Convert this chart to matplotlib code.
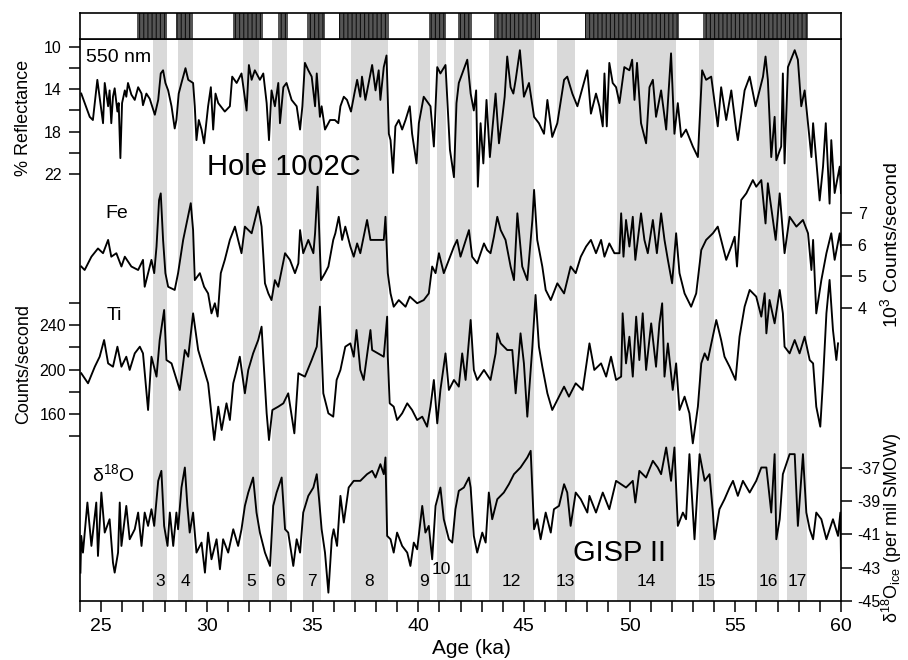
import matplotlib.pyplot as plt
from matplotlib.ticker import MultipleLocator
from matplotlib.transforms import blended_transform_factory

plt.rcParams['font.family'] = ['Liberation Sans', 'DejaVu Sans']
plt.rcParams['mathtext.fontset'] = 'custom'
plt.rcParams['mathtext.rm'] = 'Liberation Sans'
plt.rcParams['mathtext.it'] = 'Liberation Sans:italic'
plt.rcParams['axes.unicode_minus'] = False
plt.rcParams['hatch.linewidth'] = 0.8

# ---- data: (age ka, value) ----
reflectance_550 = [
    (24.06, 14.4), (24.46, 16.6), (24.61, 16.9), (24.82, 13.1), (25.09, 17.2), (25.17, 13.4), (25.33, 15.6),
    (25.40, 14.1), (25.48, 17.2), (25.56, 14.7), (25.64, 13.9), (25.77, 16.1), (25.83, 15.3), (25.91, 20.5),
    (25.99, 15.3), (26.12, 14.1), (26.19, 14.7), (26.27, 13.4), (26.43, 14.5), (26.59, 15.0), (26.75, 13.8),
    (26.91, 14.4), (26.98, 15.5), (27.14, 14.4), (27.30, 14.9), (27.54, 16.4), (27.70, 15.0), (27.82, 12.5),
    (27.93, 12.2), (28.04, 13.4), (28.17, 14.1), (28.33, 15.6), (28.48, 17.7), (28.56, 16.9), (28.67, 14.4),
    (28.80, 13.4), (28.99, 12.0), (29.12, 13.1), (29.35, 13.4), (29.43, 15.6), (29.51, 18.8), (29.62, 16.9),
    (29.75, 17.8), (29.87, 19.1), (30.06, 15.6), (30.19, 13.8), (30.30, 17.8), (30.41, 14.4), (30.54, 15.3),
    (30.85, 16.1), (31.09, 15.6), (31.20, 12.8), (31.41, 13.4), (31.64, 12.5), (31.88, 16.0), (31.99, 11.7),
    (32.12, 13.1), (32.27, 12.2), (32.51, 13.1), (32.67, 12.5), (32.83, 15.3), (32.94, 18.8), (33.06, 14.1),
    (33.22, 15.6), (33.38, 13.4), (33.46, 17.2), (33.62, 13.8), (33.77, 13.4), (34.01, 15.0), (34.25, 15.6),
    (34.41, 17.8), (34.52, 15.6), (34.64, 11.5), (34.80, 12.2), (34.96, 12.8), (35.12, 15.6), (35.20, 12.5),
    (35.35, 16.6), (35.43, 15.6), (35.59, 17.8), (35.83, 16.9), (36.06, 16.9), (36.22, 17.2), (36.32, 15.6),
    (36.48, 14.7), (36.63, 15.0), (36.82, 16.1), (36.98, 14.4), (37.11, 13.1), (37.26, 14.7), (37.34, 12.8),
    (37.50, 15.0), (37.82, 11.7), (37.98, 14.1), (38.13, 12.2), (38.21, 15.0), (38.37, 11.9), (38.50, 10.8),
    (38.61, 18.2), (38.69, 18.8), (38.81, 21.9), (38.92, 17.5), (39.08, 16.9), (39.24, 17.8), (39.40, 16.9),
    (39.60, 15.6), (39.71, 18.2), (39.92, 21.0), (40.03, 17.2), (40.26, 14.7), (40.58, 15.6), (40.74, 19.4),
    (40.90, 11.9), (41.05, 12.5), (41.29, 11.7), (41.50, 19.7), (41.69, 22.3), (41.81, 15.3), (41.92, 13.4),
    (42.32, 11.2), (42.48, 14.4), (42.63, 16.0), (42.74, 14.1), (42.82, 23.2), (42.95, 17.2), (43.08, 21.0),
    (43.23, 15.0), (43.39, 20.4), (43.66, 14.4), (43.82, 19.1), (43.98, 16.6), (44.09, 14.7), (44.21, 10.9),
    (44.37, 13.8), (44.50, 14.4), (44.61, 13.1), (44.81, 10.3), (45.00, 14.7), (45.24, 13.4), (45.48, 16.6),
    (45.71, 17.2), (45.95, 18.2), (46.11, 15.0), (46.34, 18.5), (46.58, 17.2), (46.90, 13.1), (47.05, 12.8),
    (47.29, 14.4), (47.53, 15.6), (48.00, 12.2), (48.17, 16.3), (48.41, 14.4), (48.57, 15.6), (48.73, 17.5),
    (48.81, 12.5), (48.92, 17.5), (49.04, 11.5), (49.20, 13.4), (49.36, 13.8), (49.52, 15.3), (49.75, 11.9),
    (49.99, 12.2), (50.12, 11.2), (50.23, 15.0), (50.35, 11.5), (50.54, 17.2), (50.78, 19.1), (50.94, 13.8),
    (51.10, 13.1), (51.25, 16.6), (51.49, 14.1), (51.73, 17.8), (51.96, 10.6), (52.12, 18.2), (52.28, 15.3),
    (52.44, 18.5), (52.67, 17.8), (52.99, 19.4), (53.23, 20.4), (53.43, 12.2), (53.62, 13.1), (53.86, 12.8),
    (54.17, 17.5), (54.33, 13.8), (54.57, 16.9), (54.81, 14.1), (55.04, 17.8), (55.12, 18.8), (55.44, 14.1),
    (55.68, 12.8), (55.96, 15.6), (56.31, 12.8), (56.43, 10.9), (56.54, 13.1), (56.70, 20.4), (56.86, 16.6),
    (56.94, 20.7), (57.17, 19.4), (57.25, 12.5), (57.33, 21.0), (57.49, 11.9), (57.81, 10.3), (57.96, 11.2),
    (58.12, 15.6), (58.28, 14.1), (58.44, 17.2), (58.60, 20.4), (58.68, 17.2), (58.99, 24.5), (59.15, 21.3),
    (59.28, 17.2), (59.46, 24.8), (59.54, 18.8), (59.70, 23.8), (59.94, 21.3), (60.00, 23.8),
]

iron = [
    (24.06, 5.31), (24.22, 5.20), (24.54, 5.62), (24.85, 5.88), (25.09, 5.73), (25.33, 6.15), (25.48, 5.62),
    (25.72, 5.73), (25.96, 5.31), (26.12, 5.62), (26.43, 5.31), (26.75, 5.20), (26.98, 5.52), (27.06, 4.67),
    (27.22, 5.10), (27.38, 5.52), (27.51, 5.10), (27.62, 5.94), (27.74, 7.41), (27.82, 7.62), (27.93, 6.15),
    (28.04, 5.10), (28.17, 4.67), (28.48, 4.57), (28.64, 5.10), (28.88, 6.15), (29.04, 6.67), (29.24, 7.31),
    (29.35, 6.46), (29.43, 4.88), (29.67, 5.10), (29.87, 4.67), (30.06, 4.46), (30.22, 3.83), (30.38, 4.15),
    (30.51, 3.73), (30.66, 5.10), (30.85, 5.52), (31.09, 6.15), (31.33, 6.57), (31.48, 6.15), (31.64, 5.73),
    (31.80, 6.57), (32.12, 6.36), (32.43, 7.20), (32.59, 6.57), (32.75, 4.78), (32.91, 4.46), (33.06, 4.25),
    (33.22, 4.88), (33.38, 4.67), (33.70, 5.73), (33.93, 5.52), (34.17, 5.10), (34.33, 5.41), (34.41, 6.46),
    (34.56, 5.73), (34.80, 6.15), (35.04, 5.73), (35.12, 6.36), (35.24, 7.83), (35.40, 4.88), (35.59, 5.10),
    (35.75, 5.31), (35.98, 6.15), (36.08, 6.36), (36.24, 6.88), (36.40, 6.15), (36.55, 6.57), (36.79, 5.94),
    (36.95, 5.62), (37.11, 6.04), (37.26, 5.73), (37.42, 6.25), (37.58, 6.78), (37.74, 6.15), (38.37, 6.15),
    (38.45, 6.88), (38.56, 5.10), (38.69, 4.46), (38.84, 4.04), (39.08, 4.25), (39.40, 4.04), (39.60, 4.36),
    (39.95, 4.15), (40.26, 4.25), (40.50, 4.46), (40.66, 5.31), (40.82, 5.10), (40.98, 5.73), (41.21, 5.10),
    (41.45, 5.52), (41.69, 5.94), (41.84, 6.15), (42.00, 5.62), (42.40, 6.46), (42.55, 5.62), (42.79, 5.41),
    (43.11, 6.04), (43.26, 5.83), (43.42, 5.73), (43.58, 6.25), (43.74, 6.88), (43.90, 6.46), (44.13, 6.15),
    (44.37, 5.31), (44.53, 4.88), (44.69, 6.99), (44.92, 5.31), (45.16, 4.88), (45.40, 6.78), (45.48, 7.73),
    (45.63, 6.15), (45.87, 5.31), (46.03, 4.57), (46.27, 4.25), (46.58, 4.78), (46.90, 4.46), (47.21, 5.31),
    (47.45, 5.10), (47.69, 5.62), (47.94, 5.94), (48.17, 6.15), (48.41, 5.73), (48.65, 6.15), (48.81, 5.62),
    (49.04, 6.04), (49.28, 5.73), (49.52, 5.73), (49.60, 6.99), (49.71, 5.62), (49.83, 6.78), (49.99, 5.94),
    (50.15, 6.88), (50.27, 5.52), (50.54, 6.99), (50.70, 6.15), (50.86, 5.73), (51.10, 6.78), (51.29, 5.73),
    (51.49, 6.99), (51.65, 6.15), (51.81, 5.52), (52.01, 4.78), (52.20, 6.36), (52.36, 5.10), (52.60, 4.46),
    (52.91, 4.04), (53.15, 4.46), (53.39, 5.83), (53.62, 6.15), (53.94, 6.36), (54.17, 6.57), (54.33, 6.15),
    (54.57, 5.52), (54.81, 5.94), (54.97, 6.25), (55.08, 5.31), (55.28, 7.41), (55.52, 7.62), (55.83, 8.04),
    (55.99, 7.83), (56.23, 8.04), (56.43, 6.67), (56.54, 7.94), (56.91, 6.15), (57.10, 7.62), (57.33, 5.73),
    (57.57, 6.88), (57.89, 6.57), (58.20, 6.78), (58.44, 6.36), (58.60, 5.20), (58.68, 6.15), (58.83, 3.83),
    (59.07, 4.88), (59.31, 5.73), (59.54, 6.36), (59.70, 5.52), (59.94, 6.36), (60.00, 5.94),
]

titanium = [
    (24.06, 196.6), (24.38, 187.6), (24.70, 202.5), (24.93, 211.5), (25.14, 226.5), (25.33, 205.5),
    (25.56, 202.5), (25.77, 220.5), (25.96, 202.5), (26.19, 211.5), (26.35, 199.6), (26.59, 214.5),
    (26.83, 220.5), (26.98, 214.5), (27.22, 163.6), (27.38, 211.5), (27.62, 193.6), (27.77, 226.5),
    (27.98, 253.5), (28.09, 208.5), (28.33, 205.5), (28.72, 181.6), (28.96, 217.5), (29.12, 211.5),
    (29.35, 250.5), (29.59, 217.5), (29.78, 205.5), (30.06, 187.6), (30.35, 136.6), (30.54, 166.6),
    (30.70, 145.6), (30.93, 169.6), (31.09, 154.6), (31.25, 187.6), (31.45, 202.5), (31.56, 211.5),
    (31.80, 178.6), (31.96, 199.6), (32.19, 214.5), (32.43, 226.5), (32.59, 238.5), (32.67, 211.5),
    (32.83, 160.6), (32.94, 136.6), (33.10, 163.6), (33.38, 166.6), (33.62, 169.6), (33.85, 178.6),
    (34.14, 142.6), (34.33, 196.6), (34.64, 193.6), (34.96, 208.5), (35.20, 220.5), (35.35, 256.5),
    (35.51, 178.6), (35.75, 160.6), (35.98, 157.6), (36.14, 190.6), (36.32, 199.6), (36.55, 220.5),
    (36.79, 223.5), (36.95, 211.5), (37.08, 235.5), (37.26, 199.6), (37.42, 190.6), (37.74, 235.5),
    (37.82, 217.5), (38.37, 211.5), (38.53, 247.5), (38.56, 211.5), (38.65, 169.6), (38.84, 166.6),
    (39.00, 154.6), (39.24, 160.6), (39.48, 169.6), (39.71, 163.6), (39.95, 154.6), (40.19, 157.6),
    (40.42, 148.6), (40.58, 166.6), (40.74, 190.6), (40.90, 151.6), (41.05, 181.6), (41.29, 214.5),
    (41.45, 181.6), (41.69, 190.6), (41.92, 184.6), (42.08, 214.5), (42.24, 190.6), (42.48, 244.5),
    (42.63, 199.6), (42.79, 190.6), (43.11, 199.6), (43.42, 190.6), (43.66, 214.5), (43.74, 232.5),
    (43.90, 223.5), (44.21, 217.5), (44.45, 217.5), (44.61, 178.6), (44.84, 232.5), (45.00, 205.5),
    (45.16, 157.6), (45.40, 220.5), (45.55, 267.0), (45.71, 220.5), (45.87, 202.5), (46.11, 178.6),
    (46.34, 163.6), (46.90, 184.6), (47.13, 175.6), (47.45, 187.6), (47.78, 181.6), (48.10, 223.5),
    (48.33, 199.6), (48.65, 205.5), (48.89, 193.6), (49.12, 211.5), (49.36, 190.6), (49.60, 193.6),
    (49.67, 250.5), (49.83, 205.5), (49.99, 229.5), (50.15, 193.6), (50.31, 247.5), (50.46, 208.5),
    (50.62, 250.5), (50.78, 199.6), (51.02, 241.5), (51.25, 202.5), (51.41, 241.5), (51.54, 259.5),
    (51.65, 193.6), (51.81, 223.5), (52.04, 181.6), (52.20, 205.5), (52.36, 163.6), (52.60, 175.6),
    (52.83, 160.6), (52.99, 133.6), (53.23, 166.6), (53.39, 205.5), (53.55, 214.5), (53.70, 208.5),
    (54.10, 244.5), (54.33, 226.5), (54.49, 211.5), (54.73, 202.5), (55.01, 190.6), (55.20, 229.5),
    (55.44, 256.5), (55.68, 271.5), (55.99, 265.5), (56.23, 247.5), (56.39, 268.5), (56.47, 232.5),
    (56.62, 262.5), (56.86, 241.5), (57.10, 271.5), (57.25, 250.5), (57.33, 220.5), (57.57, 214.5),
    (57.81, 226.5), (58.04, 214.5), (58.28, 229.5), (58.52, 208.5), (58.68, 205.5), (58.83, 166.6),
    (59.02, 148.6), (59.15, 190.6), (59.31, 250.5), (59.46, 280.5), (59.62, 235.5), (59.78, 208.5),
    (59.86, 223.5),
]

d18o_gisp2 = [
    (24.02, -43.3), (24.06, -41.1), (24.14, -42.1), (24.35, -39.1), (24.54, -41.7), (24.77, -39.1),
    (24.85, -42.3), (25.01, -38.5), (25.17, -40.9), (25.40, -40.1), (25.56, -42.7), (25.64, -43.3),
    (25.80, -42.1), (25.88, -39.1), (25.96, -41.7), (26.19, -39.3), (26.35, -41.3), (26.59, -40.7),
    (26.75, -39.7), (26.91, -41.7), (27.06, -39.7), (27.22, -40.5), (27.38, -39.5), (27.51, -40.5),
    (27.70, -37.8), (27.85, -37.2), (27.98, -40.5), (28.14, -41.7), (28.25, -39.7), (28.41, -41.7),
    (28.56, -39.7), (28.64, -40.7), (28.80, -38.2), (28.96, -37.0), (29.08, -39.3), (29.19, -40.9),
    (29.35, -39.7), (29.51, -42.1), (29.75, -41.5), (29.91, -43.3), (30.06, -40.9), (30.22, -42.5),
    (30.46, -41.3), (30.62, -43.1), (30.77, -41.3), (31.01, -42.1), (31.25, -40.7), (31.48, -41.7),
    (31.64, -40.7), (31.80, -39.3), (31.96, -38.5), (32.19, -37.6), (32.35, -39.7), (32.51, -40.9),
    (32.75, -42.1), (32.99, -42.9), (33.14, -39.3), (33.30, -38.5), (33.54, -37.6), (33.70, -40.7),
    (33.85, -40.9), (34.09, -42.9), (34.25, -41.3), (34.41, -42.1), (34.56, -39.7), (34.80, -38.7),
    (35.04, -38.2), (35.20, -37.4), (35.31, -38.9), (35.43, -40.7), (35.59, -42.1), (35.75, -44.5),
    (35.91, -41.3), (36.00, -40.7), (36.16, -41.7), (36.32, -38.7), (36.48, -40.3), (36.71, -38.2),
    (36.95, -37.8), (37.26, -37.8), (37.58, -37.4), (37.82, -37.2), (37.98, -37.6), (38.21, -36.8),
    (38.37, -37.4), (38.45, -36.4), (38.53, -41.1), (38.69, -41.3), (38.84, -42.1), (39.00, -40.9),
    (39.24, -41.7), (39.48, -42.1), (39.63, -42.9), (39.79, -41.5), (39.95, -41.9), (40.19, -39.3),
    (40.34, -40.9), (40.50, -40.5), (40.66, -42.5), (40.82, -39.3), (41.05, -38.2), (41.21, -40.1),
    (41.45, -41.3), (41.61, -41.5), (41.76, -39.5), (41.92, -38.4), (42.16, -38.2), (42.40, -37.6),
    (42.48, -38.2), (42.63, -41.1), (42.79, -42.1), (43.03, -40.9), (43.19, -41.5), (43.34, -38.5),
    (43.50, -40.1), (43.74, -38.9), (44.05, -38.5), (44.29, -38.0), (44.53, -37.4), (44.84, -37.0),
    (45.16, -36.4), (45.32, -36.0), (45.48, -40.7), (45.63, -40.1), (45.79, -41.3), (46.03, -39.7),
    (46.27, -40.9), (46.42, -39.5), (46.66, -39.3), (46.90, -38.0), (47.05, -38.5), (47.21, -40.5),
    (47.45, -38.5), (47.69, -38.9), (48.00, -39.7), (48.10, -38.7), (48.41, -39.7), (48.73, -38.5),
    (49.04, -39.5), (49.36, -37.8), (49.83, -38.2), (50.15, -37.8), (50.27, -39.1), (50.46, -37.2),
    (50.78, -37.6), (51.10, -36.6), (51.33, -37.0), (51.49, -37.4), (51.73, -35.8), (51.96, -37.8),
    (52.12, -35.8), (52.28, -40.5), (52.52, -39.7), (52.67, -40.1), (52.83, -36.2), (53.07, -41.3),
    (53.31, -36.2), (53.55, -37.8), (53.78, -37.4), (53.94, -39.7), (54.02, -41.3), (54.25, -39.5),
    (54.49, -38.9), (54.73, -38.2), (54.89, -37.8), (55.12, -38.7), (55.36, -37.8), (55.68, -38.5),
    (55.99, -37.8), (56.23, -37.0), (56.47, -37.0), (56.70, -39.7), (56.86, -36.2), (56.94, -41.3),
    (57.10, -40.1), (57.25, -37.4), (57.57, -36.2), (57.81, -36.2), (57.96, -40.5), (58.20, -36.2),
    (58.36, -39.7), (58.52, -40.7), (58.68, -41.3), (58.83, -39.7), (59.07, -40.1), (59.31, -41.3),
    (59.62, -40.1), (59.86, -41.1), (59.97, -39.7), (60.00, -42.5),
]

# interstadial bands (ka) and their numbers
band_start = [27.46, 28.65, 31.73, 33.10, 34.57, 36.84, 39.97, 40.87, 41.67, 43.33, 46.55, 49.40, 53.28, 56.03, 57.45]
band_end = [28.13, 29.36, 32.48, 33.81, 35.42, 38.55, 40.58, 41.30, 42.53, 45.46, 47.41, 52.19, 53.99, 57.07, 58.40]
band_labels = ['3', '4', '5', '6', '7', '8', '9', '10', '11', '12', '13', '14', '15', '16', '17']

# dark blocks in the strip above the plot (ka)
strip_start = [26.71, 28.55, 31.25, 33.39, 34.76, 36.23, 40.49, 41.86, 43.57, 47.88, 53.47]
strip_end = [28.13, 29.36, 32.67, 33.86, 35.61, 38.60, 41.30, 42.53, 45.75, 52.33, 58.44]

# ---- layout (pixels) ----
W, H = 908, 660
L, R, T, B = 80, 841, 39, 601


def box(left, top, right, bottom):
    return [left / W, 1 - bottom / H, (right - left) / W, (bottom - top) / H]


def lims(v1, p1, v2, p2):
    # y-limits so that value v1 sits at pixel row p1 and v2 at p2
    k = (v2 - v1) / (p2 - p1)
    return v1 + k * (B - p1), v1 + k * (T - p1)


fig = plt.figure(figsize=(W / 100, H / 100), dpi=100)

ax = fig.add_axes(box(L, T, R, B))
ax.set_xlim(24, 60)
ax.set_ylim(0, 1)
ax.set_yticks([])
for s in ax.spines.values():
    s.set_linewidth(1.2)
for s, e in zip(band_start, band_end):
    ax.axvspan(s, e, color='#d9d9d9', lw=0, zorder=0)
ax.xaxis.set_major_locator(MultipleLocator(5))
ax.xaxis.set_minor_locator(MultipleLocator(1))
ax.tick_params(axis='x', which='both', direction='out', length=8, width=1.1, labelsize=14, pad=4)

trans = blended_transform_factory(ax.transData, ax.transAxes)
for s, e, lab in zip(band_start, band_end, band_labels):
    yy = 0.056 if lab == '10' else 0.034
    ax.text((s + e) / 2, yy, lab, transform=trans, ha='center', va='center', fontsize=12.5)

# strip on top
bar = fig.add_axes(box(L, 13, R, T))
bar.set_xlim(24, 60)
bar.set_ylim(0, 1)
bar.set_xticks([])
bar.set_yticks([])
for s in bar.spines.values():
    s.set_linewidth(1.2)
for s, e in zip(strip_start, strip_end):
    bar.axvspan(s, e, facecolor='#555555', edgecolor='#111111', hatch='||||', lw=0)


def overlay(ylim):
    a = fig.add_axes(box(L, T, R, B))
    a.patch.set_visible(False)
    for s in a.spines.values():
        s.set_visible(False)
    a.set_xlim(24, 60)
    a.set_ylim(*ylim)
    a.set_xticks([])
    return a


series = [
    (reflectance_550, lims(10, 47, 22, 174), 'left', [10, 14, 18, 22], [12, 16, 20], 5),
    (iron, lims(7, 213, 4, 308), 'right', [4, 5, 6, 7], [], 4),
    (titanium, lims(240, 325, 160, 414), 'left', [160, 200, 240], [140, 180, 220, 260], 2),
    (d18o_gisp2, lims(-37, 467.5, -45, 601), 'right', [-45, -43, -41, -39, -37], [], 4),
]
for data, yl, side, major, minor, pad in series:
    a = overlay(yl)
    ages = [p[0] for p in data]
    vals = [p[1] for p in data]
    a.plot(ages, vals, color='black', lw=1.35)
    a.yaxis.set_ticks_position(side)
    a.set_yticks(major)
    a.set_yticks(minor, minor=True)
    a.tick_params(axis='y', which='both', direction='out', length=8, width=1.1,
                  labelsize=11.5, pad=pad)

# panel texts
def ftext(x, y, s, **kw):
    fig.text(x / W, 1 - y / H, s, **kw)

ftext(86, 58, '550 nm', fontsize=14, va='center')
ftext(207, 167, 'Hole 1002C', fontsize=21, va='center')
ftext(105, 213, 'Fe', fontsize=14, va='center')
ftext(107, 316, 'Ti', fontsize=14, va='center')
ftext(92, 474, 'δ$^{18}$O', fontsize=14, va='center')
ftext(573, 553, 'GISP II', fontsize=21, va='center')

ftext(24, 118, '% Reflectance', fontsize=13, rotation=90, ha='center', va='center')
ftext(24, 364, 'Counts/second', fontsize=13, rotation=90, ha='center', va='center')
ftext(890, 245, '10$^3$ Counts/second', fontsize=14, rotation=90, ha='center', va='center')
ftext(892, 528, 'δ$^{18}$O$_{\\rm ice}$ (per mil SMOW)', fontsize=13, rotation=90, ha='center', va='center')
ftext(471, 649, 'Age (ka)', fontsize=15, ha='center', va='center')

fig.savefig('out.png', dpi=100)
